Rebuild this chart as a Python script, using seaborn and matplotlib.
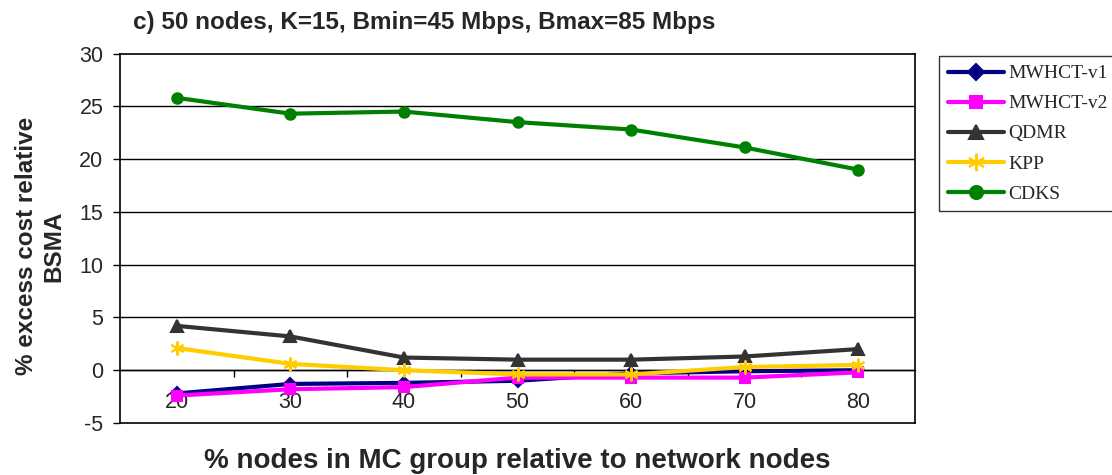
import numpy as np
import pandas as pd
import seaborn as sns
import matplotlib.pyplot as plt

# data
group_pct = [20, 30, 40, 50, 60, 70, 80]
mwhct_v1 = [-2.2, -1.3, -1.2, -1.0, -0.3, -0.1, 0.0]
mwhct_v2 = [-2.4, -1.8, -1.6, -0.7, -0.7, -0.7, -0.2]
qdmr = [4.2, 3.2, 1.2, 1.0, 1.0, 1.3, 2.0]
kpp = [2.1, 0.6, 0.0, -0.4, -0.4, 0.3, 0.5]
cdks = [25.8, 24.3, 24.5, 23.5, 22.8, 21.1, 19.0]
y_ticks = [-5, 0, 5, 10, 15, 20, 25, 30]

series = {"MWHCT-v1": mwhct_v1, "MWHCT-v2": mwhct_v2, "QDMR": qdmr,
          "KPP": kpp, "CDKS": cdks}
palette = {"MWHCT-v1": "#000080", "MWHCT-v2": "#ff00ff", "QDMR": "#333333",
           "KPP": "#ffcc00", "CDKS": "#008000"}
markers = {"MWHCT-v1": "D", "MWHCT-v2": "s", "QDMR": "^",
           "KPP": (6, 2, 0), "CDKS": "o"}
msize = {"MWHCT-v1": 6.5, "MWHCT-v2": 7, "QDMR": 8, "KPP": 10, "CDKS": 7.5}

sns.set_style("white")
plt.rcParams['font.family'] = ['Liberation Sans', 'DejaVu Sans']
plt.rcParams['axes.unicode_minus'] = False

fig = plt.figure(figsize=(11.12, 4.75), dpi=100)
ax = fig.add_axes([120/1112, 1 - 423/475, (915 - 120)/1112, (423 - 53.5)/475])

for name, vals in series.items():
    sns.lineplot(x=group_pct, y=vals, color=palette[name], marker=markers[name],
                 markersize=msize[name], markeredgecolor=palette[name],
                 markerfacecolor=palette[name], markeredgewidth=1.5,
                 linewidth=3, label=name, ax=ax)

ax.set_xlim(15, 85)
ax.set_ylim(-5, 30)
ax.set_yticks(y_ticks)
ax.tick_params(axis='y', labelsize=15.5, direction='out', length=5, width=1,
               color='black', left=True, pad=7)
for t in y_ticks[1:-1]:
    ax.axhline(t, color='black', lw=1, zorder=0)
for s in ax.spines.values():
    s.set_color('black')
    s.set_linewidth(1.2)

# x labels sit just under the zero line
ax.set_xticks([])
sec = ax.secondary_xaxis(5/35)
sec.set_xticks(group_pct)
sec.set_xticks([25, 35, 45, 55, 65, 75], minor=True)
sec.tick_params(axis='x', which='major', length=0, labelsize=15.5, pad=16)
sec.tick_params(axis='x', which='minor', length=5, width=1, direction='out',
                color='black', bottom=True)
sec.spines['bottom'].set_color('black')
sec.spines['bottom'].set_linewidth(1)

ax.set_xlabel('% nodes in MC group relative to network nodes',
              fontsize=20, fontweight='bold', labelpad=18)
ax.set_ylabel('% excess cost relative\nBSMA', fontsize=17.5,
              fontweight='bold', linespacing=1.25)
ax.yaxis.set_label_coords(-0.069, 0.479)
fig.text(133/1112, 1 - 22/475, 'c) 50 nodes, K=15, Bmin=45 Mbps, Bmax=85 Mbps',
         fontsize=17.5, fontweight='bold', ha='left', va='center')

leg = ax.legend(loc='upper left', bbox_to_anchor=(939/1112, 1 - 56/475),
                bbox_transform=fig.transFigure, frameon=True, fancybox=False,
                prop={'family': 'Liberation Serif', 'size': 14},
                markerscale=1.25, handlelength=2.9, handletextpad=0.2,
                labelspacing=0.64, borderpad=0.45, borderaxespad=0)
leg.get_frame().set_edgecolor('black')
leg.get_frame().set_linewidth(1)

fig.savefig('out.png', dpi=100)
